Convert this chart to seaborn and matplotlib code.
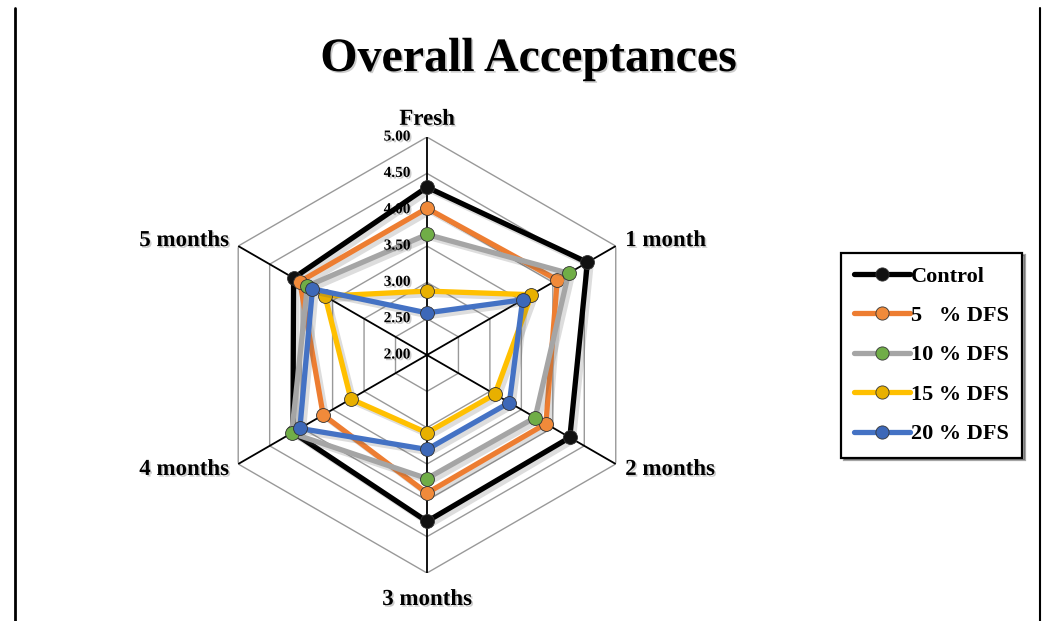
import numpy as np
import pandas as pd
import matplotlib
matplotlib.use("Agg")
import matplotlib.pyplot as plt
import matplotlib.patheffects as pe
from matplotlib.lines import Line2D
from matplotlib.transforms import offset_copy
import seaborn as sns

# data
periods = ["Fresh", "1 month", "2 months", "3 months", "4 months", "5 months"]
series_names = ["Control", "5   % DFS", "10 % DFS", "15 % DFS", "20 % DFS"]
control = [4.31, 4.55, 4.27, 4.29, 4.13, 4.12]
dfs_5 = [4.02, 4.07, 3.89, 3.90, 3.65, 4.02]
dfs_10 = [3.66, 4.25, 3.72, 3.70, 4.15, 3.90]
dfs_15 = [2.88, 3.66, 3.08, 3.07, 3.21, 3.62]
dfs_20 = [2.58, 3.52, 3.31, 3.30, 4.02, 3.82]
r_ticks = [2.00, 2.50, 3.00, 3.50, 4.00, 4.50, 5.00]

line_colors = ["#000000", "#ED7D31", "#A5A5A5", "#FFC000", "#4472C4"]
marker_colors = ["#111111", "#F08A3A", "#70AD47", "#E8B000", "#3D68B8"]

sns.set_theme(style="white")
plt.rcParams["font.family"] = ["Liberation Serif", "DejaVu Serif"]
plt.rcParams["font.weight"] = "bold"
plt.rcParams["text.color"] = "black"

n = len(periods)
theta = np.arange(n) * 2 * np.pi / n
theta_closed = np.append(theta, 2 * np.pi)

rows = []
for name, vals in zip(series_names, [control, dfs_5, dfs_10, dfs_15, dfs_20]):
    for t, v in zip(theta_closed, vals + vals[:1]):
        rows.append({"series": name, "theta": t, "value": v})
df = pd.DataFrame(rows)

fig = plt.figure(figsize=(10.46, 6.21), dpi=100)
ax = fig.add_axes([0.1998, 0.0773, 0.4168, 0.702], projection="polar")
ax.set_theta_offset(np.pi / 2)
ax.set_theta_direction(-1)
ax.set_ylim(2, 5)
ax.grid(False)
ax.spines["polar"].set_visible(False)
ax.set_xticks([])
ax.set_yticks([])
ax.set_facecolor("none")

# hexagon grid + spokes
for r in r_ticks[1:]:
    ax.plot(theta_closed, [r] * (n + 1), color="#999999", lw=1.0, zorder=1)
for t in theta:
    ax.plot([t, t], [2, 5], color="black", lw=1.3, zorder=1.5)

shadow = [pe.SimpleLineShadow(offset=(2.5, -2.5), alpha=0.2, shadow_color="#555555"), pe.Normal()]
handles = []
for i, name in enumerate(series_names):
    sub = df[df["series"] == name]
    sns.lineplot(data=sub, x="theta", y="value", sort=False, ax=ax, color=line_colors[i],
                 lw=3.8, zorder=3 + i, legend=False, path_effects=shadow)
    sns.scatterplot(data=sub.iloc[:-1], x="theta", y="value", ax=ax, color=marker_colors[i],
                    s=100, edgecolor="#333333", linewidth=0.6, zorder=3.5 + i, legend=False)
    handles.append(Line2D([], [], color=line_colors[i], lw=3.8, marker="o", markersize=9.5,
                          markerfacecolor=marker_colors[i], markeredgecolor="#333333",
                          markeredgewidth=0.6))
ax.set_xlabel("")
ax.set_ylabel("")

txt_shadow = [pe.withSimplePatchShadow(offset=(1.2, -1.2), alpha=0.2)]

# radial labels
lab_tr = offset_copy(ax.transData, fig=fig, x=-12, y=0, units="points")
for r in r_ticks:
    ax.text(0, r, f"{r:.2f}", transform=lab_tr, ha="right", va="center",
            fontsize=11, fontweight="bold", zorder=10, path_effects=txt_shadow)

# category labels
aligns = [("center", "bottom"), ("left", "center"), ("left", "center"),
          ("center", "top"), ("right", "center"), ("right", "center")]
radii = [5.1, 5.15, 5.15, 5.22, 5.15, 5.15]
for t, lab, (ha, va), rr in zip(theta, periods, aligns, radii):
    ax.text(t, rr, lab, ha=ha, va=va, fontsize=16.5, fontweight="bold",
            clip_on=False, path_effects=txt_shadow)

fig.text(0.505, 0.905, "Overall Acceptances", ha="center", va="center",
         fontsize=34.5, fontweight="bold", path_effects=txt_shadow)

leg = fig.legend(handles, series_names, loc="center", bbox_to_anchor=(0.8905, 0.428),
                 frameon=True, fancybox=False, shadow=True, edgecolor="black",
                 prop={"family": "Liberation Serif", "weight": "bold", "size": 16},
                 handlelength=2.5, handletextpad=0.05, labelspacing=0.85,
                 borderpad=0.6, borderaxespad=0)
leg.get_frame().set_linewidth(1.6)

# page edge lines
fig.add_artist(Line2D([15 / 1046, 15 / 1046], [0, 1 - 8 / 621], color="black", lw=2))
fig.add_artist(Line2D([1040 / 1046, 1040 / 1046], [0, 1 - 8 / 621], color="black", lw=1.5))

fig.savefig("out.png", dpi=100)
